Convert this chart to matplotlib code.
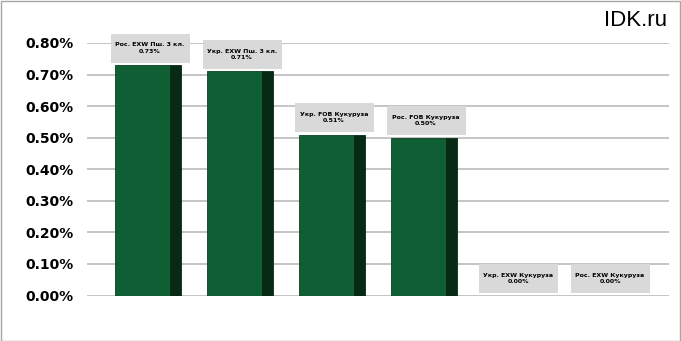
import numpy as np
import matplotlib.pyplot as plt
from matplotlib.patches import Rectangle

# data
names = ["Рос. EXW Пш. 3 кл.", "Укр. EXW Пш. 3 кл.", "Укр. FOB Кукуруза",
         "Рос. FOB Кукуруза", "Укр. EXW Кукуруза", "Рос. EXW Кукуруза"]
values = [0.73, 0.71, 0.51, 0.50, 0.00, 0.00]
yticks = [0.0, 0.1, 0.2, 0.3, 0.4, 0.5, 0.6, 0.7, 0.8]

face = "#105e34"
side = "#062a14"

fig = plt.figure(figsize=(6.81, 3.41), dpi=100)
fig.patch.set_facecolor("white")
ax = fig.add_axes([87 / 681, 45.5 / 341, 582 / 681, 252.5 / 341])

px = 1 / 92.0  # one pixel in x data units
py = 0.8 / 252.5  # one pixel in y data units
x = np.arange(len(values))

# gridlines
for t in yticks:
    ax.axhline(t, color="#c0c0c0", lw=1.3, zorder=0)

for i, v in enumerate(values):
    if v > 0:
        ax.bar(i - 35 * px, v, width=55 * px, align="edge", color=face,
               edgecolor="#0b3f22", lw=0.6, zorder=2)
        ax.bar(i + 20 * px, v, width=11 * px, align="edge", color=side,
               edgecolor=side, lw=0.6, zorder=2)
    yc = v + 0.054
    ax.text(i, yc, names[i] + "\n" + f"{v:.2f}%", ha="center", va="center",
            fontsize=4.5, fontweight="bold", family="DejaVu Sans", color="black",
            linespacing=1.3, zorder=4, clip_on=False)
    ax.add_patch(Rectangle((i - 39.5 * px, yc - 14.5 * py), 79 * px, 29 * py,
                           facecolor="#d9d9d9", edgecolor="none", zorder=3,
                           clip_on=False))

ax.set_xlim(-63 * px, 519 * px)
ax.set_ylim(0, 0.8)
ax.set_yticks(yticks)
ax.set_yticklabels([f"{t:.2f}%" for t in yticks], fontsize=10, fontweight="bold",
                   family="DejaVu Sans")
ax.tick_params(axis="y", length=0, pad=9.4)
ax.set_xticks([])
for s in ax.spines.values():
    s.set_visible(False)
ax.patch.set_alpha(0)

fig.text(667 / 681, 1 - 21 / 341, "IDK.ru", ha="right", va="center",
         fontsize=16, family="Liberation Sans", color="black")

# outer border
fig.add_artist(Rectangle((0.5 / 681, 0.5 / 341), 679 / 681, 339.5 / 341,
                         transform=fig.transFigure, fill=False,
                         edgecolor="#a6a6a6", lw=1))

fig.savefig("out.png", dpi=100)
